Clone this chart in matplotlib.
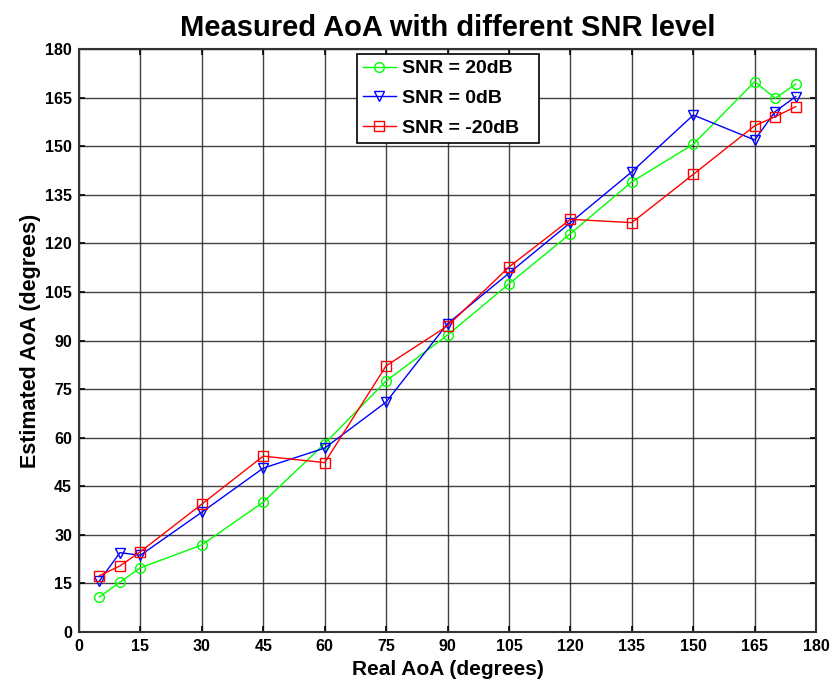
import numpy as np
import matplotlib
matplotlib.use('Agg')
import matplotlib.pyplot as plt

plt.rcParams['font.family'] = ['Liberation Sans', 'DejaVu Sans']
plt.rcParams['font.weight'] = 'bold'

# real angle of arrival
real_aoa = [5, 10, 15, 30, 45, 60, 75, 90, 105, 120, 135, 150, 165, 170, 175]

# estimated AoA at each SNR level
snr_20 = [10.8, 15.4, 19.8, 26.9, 40.1, 58.2, 77.5, 91.7, 107.5, 123.0, 139.0, 150.6, 169.9, 164.8, 169.2]
snr_0 = [15.8, 24.5, 23.7, 37.0, 50.6, 56.8, 71.0, 95.2, 110.8, 126.4, 142.1, 159.6, 151.9, 160.7, 165.3]
snr_m20 = [17.4, 20.4, 24.8, 39.5, 54.3, 52.3, 82.2, 94.5, 112.7, 127.4, 126.4, 141.3, 156.3, 159.1, 162.2]

ticks = np.arange(0, 181, 15)

fig = plt.figure(figsize=(8.33, 6.89), dpi=100)
ax = fig.add_axes([0.0948, 0.0827, 0.885, 0.8462])

ax.plot(real_aoa, snr_20, '-o', color='#00ff00', lw=1, ms=7, mfc='none', label='SNR = 20dB')
ax.plot(real_aoa, snr_0, '-v', color='#0000ff', lw=1, ms=7, mfc='none', label='SNR = 0dB')
ax.plot(real_aoa, snr_m20, '-s', color='#ff0000', lw=1, ms=7, mfc='none', label='SNR = -20dB')

ax.set_xlim(0, 180)
ax.set_ylim(0, 180)
ax.set_xticks(ticks)
ax.set_yticks(ticks)
ax.tick_params(direction='in', labelsize=11.5, width=1.2, length=4, top=True, right=True, pad=5)
ax.grid(True, color='#222222', lw=1, alpha=0.85)
for s in ax.spines.values():
    s.set_linewidth(1.5)
    s.set_color('#333333')

ax.set_xlabel('Real AoA (degrees)', fontsize=15, fontweight='bold', labelpad=4)
ax.set_ylabel('Estimated AoA (degrees)', fontsize=15.5, fontweight='bold', labelpad=3)
ax.set_title('Measured AoA with different SNR level', fontsize=21, fontweight='bold', pad=9)

# legend box stretched to the reference width
leg = ax.legend(loc='upper left', bbox_to_anchor=(0.377, 0, 0.247, 1 - 5 / 583), mode='expand',
                borderaxespad=0, fontsize=14, fancybox=False, edgecolor='black', framealpha=1,
                handlelength=1.7, handletextpad=0.3, borderpad=0.3, labelspacing=0.62)
leg.get_frame().set_linewidth(1.2)

fig.savefig('out.png', dpi=100)
